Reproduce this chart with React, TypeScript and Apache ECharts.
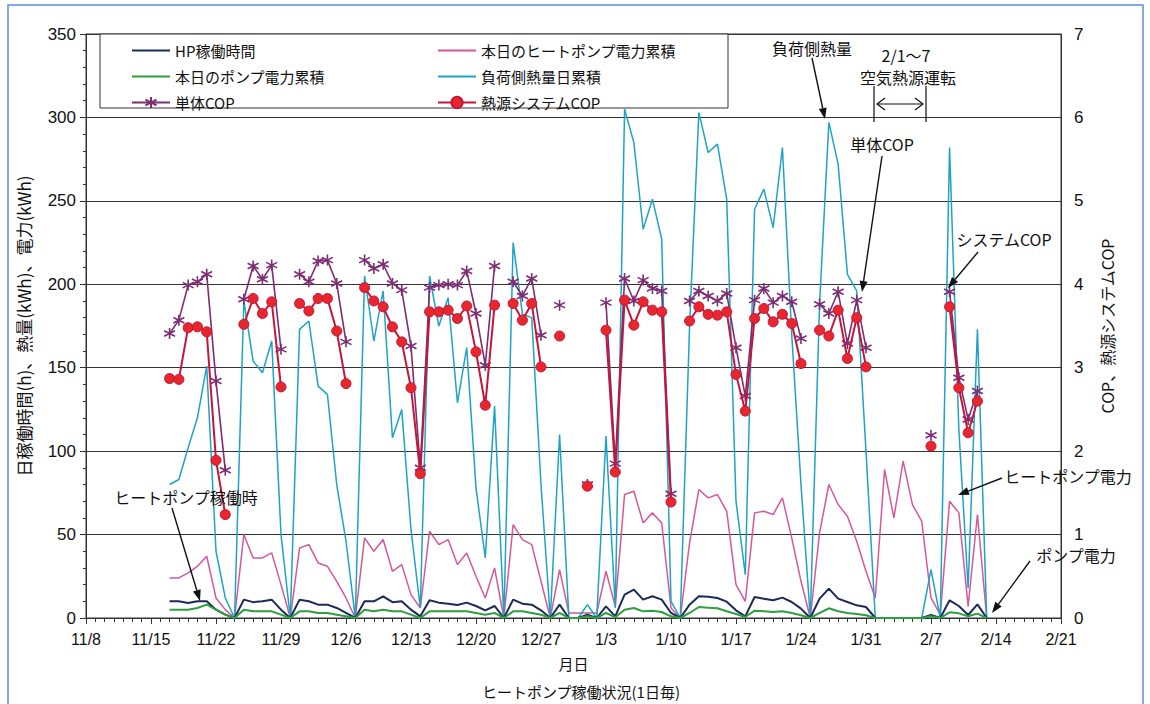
import React, { useEffect, useRef } from "react";
import * as echarts from "echarts";

// x axis: day offset from 11/8, weekly tick labels
const xTickLabels = ["11/8", "11/15", "11/22", "11/29", "12/6", "12/13", "12/20", "12/27", "1/3", "1/10", "1/17", "1/24", "1/31", "2/7", "2/14", "2/21"];
const firstDay = 9; // first data point = 11/17

// HP稼働時間 (h)
const hpHours = [
  10, 10, 9, 10, 10, 5, 2, 0,
  11, 9.5, 10, 11, 5, 0,
  11, 10, 8, 8, 6, 3, 0,
  10, 10, 13, 9.5, 10, 5, 1,
  10.6, 9.2, 8.6, 7.8, 9.2, 7.2, 4.6, 7.2, 0,
  11, 8.6, 8, 4.6, 0, 8, 0, 0, 2, 0,
  7, 1, 14, 17, 11, 13, 11, 3, 0,
  8, 13, 12.8, 12, 9.8, 4.6, 1, 12.6, 11.6, 10.6, 12.2, 9.6, 5.6, 0,
  11.6, 17.6, 11.6, 9.6, 7.6, 6.6, 0, 0, 0, 0, 0, 0, 1.8, 0, 10.6, 7.2, 1.8, 8.2, 0,
];
// 本日のヒートポンプ電力累積 (kWh)
const hpPower = [
  24, 24, 27, 31, 37, 12, 5, 0,
  50, 36, 36, 39, 20, 0,
  42, 44, 33, 31, 22, 12, 0,
  48, 40, 47, 28, 32, 14, 6,
  52, 44, 47, 32, 39, 25, 12, 30, 0,
  56, 47, 44, 22, 0, 29, 3, 3, 3, 3,
  28, 7, 74, 76, 57, 63, 57, 6, 0,
  45, 77, 72, 74, 64, 20, 10, 63, 64, 62, 72, 48, 22, 0,
  51, 80, 68, 61, 46, 28, 12, 89, 60, 94, 68, 58, 12, 2, 70, 63, 7, 62, 0,
];
// 本日のポンプ電力累積 (kWh)
const pumpPower = [
  5, 5, 5, 6, 8, 5, 2, 0,
  5, 4, 4, 4, 2, 0,
  4, 4, 3, 3, 2, 1, 0,
  5, 4, 5, 4, 4, 2, 0,
  4, 4, 4, 4, 4, 3, 2, 3, 0,
  4, 4, 3, 2, 0, 3, 0, 0, 1, 0,
  3, 0.5, 5, 6, 4, 4.4, 3.6, 1, 0,
  3, 6.6, 6.2, 5.8, 4, 2.4, 0.6, 4.4, 4, 3.6, 4, 3, 1.6, 0,
  3, 5.8, 4, 3, 2.4, 1.6, 0, 0, 0, 0, 0, 0, 1, 0, 3.4, 2.8, 1, 2.6, 0,
];
// 負荷側熱量日累積 (kWh)
const loadHeat = [
  80, 83, 102, 120, 151, 40, 12, 0,
  190, 154, 147, 166, 50, 0,
  173, 178, 139, 134, 80, 46, 0,
  205, 166, 196, 108, 125, 53, 6,
  205, 175, 192, 129, 162, 78, 36, 127, 0,
  225, 182, 180, 80, 0, 110, 0, 0, 8, 0,
  109, 6, 305, 285, 233, 251, 227, 10, 0,
  175, 303, 279, 284, 251, 70, 26, 245, 257, 234, 282, 170, 80, 0,
  188, 297, 272, 206, 196, 100, 0, 0, 0, 0, 0, 0, 29, 0, 282, 113, 18, 173, 0,
];
// 単体COP
const unitCop = [
  3.41, 3.57, 3.99, 4.03, 4.12, 2.84, 1.77, null,
  3.82, 4.22, 4.06, 4.23, 3.22, null,
  4.12, 4.03, 4.28, 4.29, 4.01, 3.31, null,
  4.29, 4.19, 4.24, 4.01, 3.93, 3.26, 1.8,
  3.96, 3.99, 4.0, 3.99, 4.16, 3.65, 3.03, 4.22, null,
  4.03, 3.86, 4.07, 3.39, null, 3.75, null, null, 1.6, null,
  3.78, 1.85, 4.07, 3.8, 4.05, 3.95, 3.92, 1.49, null,
  3.8, 3.92, 3.86, 3.8, 3.89, 3.24, 2.66, 3.81, 3.95, 3.78, 3.86, 3.79, 3.35, null,
  3.76, 3.65, 3.91, 3.29, 3.81, 3.24, null, null, null, null, null, null, 2.19, null, 3.91, 2.88, 2.38, 2.72, null,
];
// 熱源システムCOP
const sysCop = [
  2.87, 2.86, 3.48, 3.49, 3.43, 1.89, 1.24, null,
  3.52, 3.83, 3.65, 3.79, 2.77, null,
  3.77, 3.68, 3.83, 3.83, 3.44, 2.81, null,
  3.96, 3.8, 3.73, 3.49, 3.31, 2.76, 1.73,
  3.67, 3.67, 3.69, 3.59, 3.74, 3.19, 2.55, 3.75, null,
  3.77, 3.57, 3.77, 3.01, null, 3.38, null, null, 1.58, null,
  3.45, 1.75, 3.81, 3.51, 3.79, 3.69, 3.67, 1.39, null,
  3.56, 3.73, 3.64, 3.63, 3.67, 2.92, 2.48, 3.59, 3.71, 3.55, 3.64, 3.53, 3.05, null,
  3.45, 3.38, 3.69, 3.11, 3.6, 3.01, null, null, null, null, null, null, 2.06, null, 3.73, 2.76, 2.22, 2.6, null,
];

const toPairs = (arr: (number | null)[]) => arr.map((v, i) => [firstDay + i, v]);

const JP = "'Noto Sans CJK JP', 'Noto Sans', sans-serif";
const NUM = "'Liberation Sans Narrow', 'Liberation Sans', Arial, sans-serif";
const STAR = "path://M0,-6 L0,6 M-5.2,-3 L5.2,3 M-5.2,3 L5.2,-3";
const LINE_ICON = "path://M0,0 L40,0 L40,2 L0,2 Z";

function arrow(x1: number, y1: number, x2: number, y2: number) {
  const a = Math.atan2(y2 - y1, x2 - x1);
  const c = Math.cos(a), s = Math.sin(a);
  const hl = 11, hw = 4;
  const bx = x2 - hl * c, by = y2 - hl * s;
  return {
    type: "group",
    children: [
      { type: "line", shape: { x1, y1, x2: bx, y2: by }, style: { stroke: "#111", lineWidth: 1.4 }, z: 50 },
      {
        type: "polygon",
        shape: { points: [[x2, y2], [bx - s * hw, by + c * hw], [bx + s * hw, by - c * hw]] },
        style: { fill: "#111" },
        z: 50,
      },
    ],
  };
}

function label(text: string, x: number, y: number, size = 16) {
  return {
    type: "text",
    x,
    y,
    z: 50,
    style: {
      text,
      fill: "#111",
      fontSize: size,
      fontFamily: JP,
      align: "center",
      textAlign: "center",
      verticalAlign: "middle",
      textVerticalAlign: "middle",
    },
  };
}

export default function App() {
  const ref = useRef<HTMLDivElement>(null);
  useEffect(() => {
    if (!ref.current) return;
    const chart = echarts.init(ref.current, null, { renderer: "svg" });
    const legendText = { fontSize: 15, fontFamily: JP, color: "#111" };
    const option: any = {
      animation: false,
      backgroundColor: "#fff",
      grid: { left: 86, top: 34, width: 975, height: 584, show: true, borderColor: "#333", borderWidth: 1, backgroundColor: "transparent" },
      legend: [
        {
          orient: "vertical",
          left: 126,
          top: 38,
          itemWidth: 38,
          itemHeight: 14,
          itemGap: 11,
          textStyle: legendText,
          data: [
            { name: "HP稼働時間", icon: LINE_ICON },
            { name: "本日のポンプ電力累積", icon: LINE_ICON },
            "単体COP",
          ],
        },
        {
          orient: "vertical",
          left: 432,
          top: 38,
          itemWidth: 38,
          itemHeight: 14,
          itemGap: 11,
          textStyle: legendText,
          data: [
            { name: "本日のヒートポンプ電力累積", icon: LINE_ICON },
            { name: "負荷側熱量日累積", icon: LINE_ICON },
            "熱源システムCOP",
          ],
        },
      ],
      xAxis: {
        type: "value",
        min: 0,
        max: 105,
        interval: 7,
        name: "月日",
        nameLocation: "middle",
        nameGap: 38,
        nameTextStyle: { fontSize: 15, fontFamily: JP, color: "#111" },
        axisLine: { show: true, onZero: false, lineStyle: { color: "#333" } },
        axisTick: { show: true, length: 6, lineStyle: { color: "#333" } },
        minorTick: { show: true, splitNumber: 7, length: 4, lineStyle: { color: "#333" } },
        splitLine: { show: false },
        axisLabel: {
          margin: 13,
          fontSize: 16,
          fontFamily: NUM,
          color: "#111",
          formatter: (v: number) => xTickLabels[Math.round(v / 7)] ?? "",
        },
      },
      yAxis: [
        {
          type: "value",
          min: 0,
          max: 350,
          interval: 50,
          name: "日稼働時間(h)、熱量(kWh)、電力(kWh)",
          nameLocation: "middle",
          nameRotate: 90,
          nameGap: 54,
          nameTextStyle: { fontSize: 17, fontFamily: JP, color: "#111" },
          axisLine: { show: true, lineStyle: { color: "#333" } },
          axisTick: { show: true, length: 6, lineStyle: { color: "#333" } },
          minorTick: { show: true, splitNumber: 5, length: 3, lineStyle: { color: "#333" } },
          splitLine: { show: true, lineStyle: { color: "#333", width: 1 } },
          axisLabel: { margin: 10, fontSize: 17, fontFamily: "'Liberation Sans', Arial, sans-serif", color: "#111" },
        },
        {
          type: "value",
          min: 0,
          max: 7,
          interval: 1,
          position: "right",
          name: "COP、熱源システムCOP",
          nameLocation: "middle",
          nameRotate: 90,
          nameGap: 38,
          nameTextStyle: { fontSize: 16, fontFamily: JP, color: "#111" },
          axisLine: { show: true, lineStyle: { color: "#333" } },
          axisTick: { show: false },
          splitLine: { show: false },
          axisLabel: { margin: 13, fontSize: 17, fontFamily: "'Liberation Sans', Arial, sans-serif", color: "#111" },
        },
      ],
      series: [
        {
          name: "HP稼働時間",
          type: "line",
          data: toPairs(hpHours),
          showSymbol: false,
          symbol: "none",
          lineStyle: { color: "#1c2a5a", width: 2 },
          itemStyle: { color: "#1c2a5a" },
          z: 3,
        },
        {
          name: "本日のヒートポンプ電力累積",
          type: "line",
          data: toPairs(hpPower),
          showSymbol: false,
          symbol: "none",
          lineStyle: { color: "#d4589a", width: 1.5 },
          itemStyle: { color: "#d4589a" },
          z: 2,
        },
        {
          name: "本日のポンプ電力累積",
          type: "line",
          data: toPairs(pumpPower),
          showSymbol: false,
          symbol: "none",
          lineStyle: { color: "#2e9e3e", width: 2 },
          itemStyle: { color: "#2e9e3e" },
          z: 3,
        },
        {
          name: "負荷側熱量日累積",
          type: "line",
          data: toPairs(loadHeat),
          showSymbol: false,
          symbol: "none",
          lineStyle: { color: "#1ea3c4", width: 1.5 },
          itemStyle: { color: "#1ea3c4" },
          z: 2,
        },
        {
          name: "単体COP",
          type: "line",
          yAxisIndex: 1,
          data: toPairs(unitCop),
          symbol: STAR,
          symbolSize: 11,
          showSymbol: true,
          showAllSymbol: true,
          connectNulls: false,
          lineStyle: { color: "#7d2d72", width: 1.6 },
          itemStyle: { color: "#7d2d72", borderColor: "#7d2d72", borderWidth: 1.6 },
          z: 4,
        },
        {
          name: "熱源システムCOP",
          type: "line",
          yAxisIndex: 1,
          data: toPairs(sysCop),
          symbol: "circle",
          symbolSize: 10,
          showSymbol: true,
          showAllSymbol: true,
          connectNulls: false,
          lineStyle: { color: "#c4163a", width: 2 },
          itemStyle: { color: "#e8262e", borderColor: "#c4163a", borderWidth: 1 },
          z: 5,
        },
      ],
      graphic: [
        // outer frame
        { type: "rect", shape: { x: 8, y: 5, width: 1135, height: 710 }, style: { fill: "none", stroke: "#5b8fd9", lineWidth: 1.5 }, z: 0, silent: true },
        // legend box
        { type: "rect", shape: { x: 100, y: 34, width: 628, height: 74 }, style: { fill: "#fff", stroke: "#333", lineWidth: 1 }, z: 3, silent: true },
        // bottom caption
        label("ヒートポンプ稼働状況(1日毎)", 581, 691, 15),
        // annotations
        label("負荷側熱量", 812, 48),
        arrow(812, 58, 825, 119),
        label("2/1～7", 906, 55),
        label("空気熱源運転", 908, 77),
        { type: "line", shape: { x1: 874, y1: 86, x2: 874, y2: 122 }, style: { stroke: "#111", lineWidth: 1.2 }, z: 50 },
        { type: "line", shape: { x1: 926, y1: 86, x2: 926, y2: 122 }, style: { stroke: "#111", lineWidth: 1.2 }, z: 50 },
        { type: "line", shape: { x1: 877, y1: 104, x2: 923, y2: 104 }, style: { stroke: "#111", lineWidth: 1.2 }, z: 50 },
        { type: "polyline", shape: { points: [[885, 98], [877, 104], [885, 110]] }, style: { stroke: "#111", fill: "none", lineWidth: 1.2 }, z: 50 },
        { type: "polyline", shape: { points: [[915, 98], [923, 104], [915, 110]] }, style: { stroke: "#111", fill: "none", lineWidth: 1.2 }, z: 50 },
        label("単体COP", 882, 144),
        arrow(882, 156, 862, 292),
        label("システムCOP", 1004, 239),
        arrow(978, 252, 948, 288),
        label("ヒートポンプ電力", 1068, 476),
        arrow(1002, 478, 958, 495),
        label("ポンプ電力", 1076, 555),
        arrow(1030, 561, 992, 613),
        label("ヒートポンプ稼働時", 186, 497),
        arrow(172, 508, 200, 601),
      ],
    };
    chart.setOption(option);
    return () => chart.dispose();
  }, []);
  return <div ref={ref} style={{ position: "fixed", left: 0, top: 0, width: 1150, height: 704 }} />;
}
